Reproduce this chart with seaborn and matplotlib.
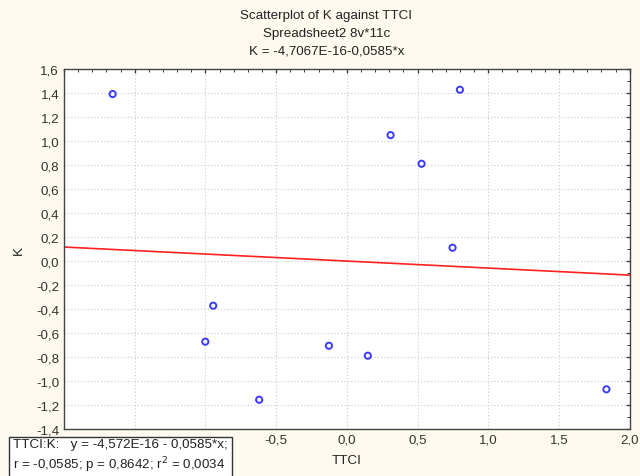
import numpy as np
import matplotlib
matplotlib.use("Agg")
import matplotlib.pyplot as plt
from matplotlib.ticker import MultipleLocator, FuncFormatter
import seaborn as sns

# Data (11 cases)
ttci = [-1.656, -0.945, -1.001, -0.127, -0.620, 0.799, 0.309, 0.528, 0.747, 0.148, 1.835]
k_vals = [1.392, -0.372, -0.672, -0.706, -1.156, 1.428, 1.050, 0.811, 0.111, -0.789, -1.069]

# regression coefficients from the chart header
intercept = -4.7067e-16
slope = -0.0585

sns.set_style("white")
plt.rcParams['font.family'] = ['Liberation Sans', 'DejaVu Sans']

bg = '#fffaf0'
fs = 9.6
fig = plt.figure(figsize=(6.4, 4.77), dpi=100, facecolor=bg)
ax = fig.add_axes([0.1, 0.0985, 0.884, 0.7545])
ax.set_facecolor('white')

# scatter points
sns.scatterplot(x=ttci, y=k_vals, ax=ax, marker='o', s=20,
                facecolor='none', edgecolor='#3c3cff', linewidth=1.4, zorder=3)

# fitted line across the x range
xs = np.array([-2.0, 2.0])
ax.plot(xs, intercept + slope * xs, color='#ff2020', lw=1.2, zorder=2)

ax.set_xlim(-2.0, 2.0)
ax.set_ylim(-1.4, 1.6)
ax.xaxis.set_major_locator(MultipleLocator(0.5))
ax.xaxis.set_minor_locator(MultipleLocator(0.1))
ax.yaxis.set_major_locator(MultipleLocator(0.2))
ax.yaxis.set_minor_locator(MultipleLocator(0.1))

def comma(v, p):
    return ('%.1f' % v).replace('.', ',').replace('-0,0', '0,0')

# x labels left of -0.5 sit under the stats box in the original, so not shown
ax.xaxis.set_major_formatter(FuncFormatter(lambda v, p: comma(v, p) if v > -0.75 else ''))
ax.yaxis.set_major_formatter(FuncFormatter(comma))

ax.tick_params(which='both', direction='in', top=True, right=True, colors='#333333', labelsize=fs)
ax.tick_params(which='major', length=3, width=0.9)
ax.tick_params(which='minor', length=2, width=0.7)
ax.grid(True, which='major', linestyle=(0, (1, 2)), color='#c8c8c8', lw=0.8)
for sp in ax.spines.values():
    sp.set_color('#444444')
    sp.set_linewidth(1.0)

ax.set_xlabel('TTCI', fontsize=fs, color='#222222', labelpad=6)
ax.set_ylabel('K', fontsize=fs, color='#222222', labelpad=8)

# three-line header
fig.text(0.51, 0.966, 'Scatterplot of K against TTCI', ha='center', va='center', fontsize=fs, color='#222222')
fig.text(0.51, 0.929, 'Spreadsheet2 8v*11c', ha='center', va='center', fontsize=fs, color='#222222')
fig.text(0.51, 0.892, 'K = -4,7067E-16-0,0585*x', ha='center', va='center', fontsize=fs, color='#222222')

# statistics box, bottom left
fig.text(0.02, 0.042,
         'TTCI:K:   y = -4,572E-16 - 0,0585*x;\nr = -0,0585; p = 0,8642; r$^2$ = 0,0034',
         ha='left', va='center', fontsize=fs, color='#222222', linespacing=1.3, zorder=5,
         bbox=dict(boxstyle='square,pad=0.3', facecolor='white', edgecolor='#333333', lw=1.0))

fig.savefig('out.png', dpi=100, facecolor=bg)
